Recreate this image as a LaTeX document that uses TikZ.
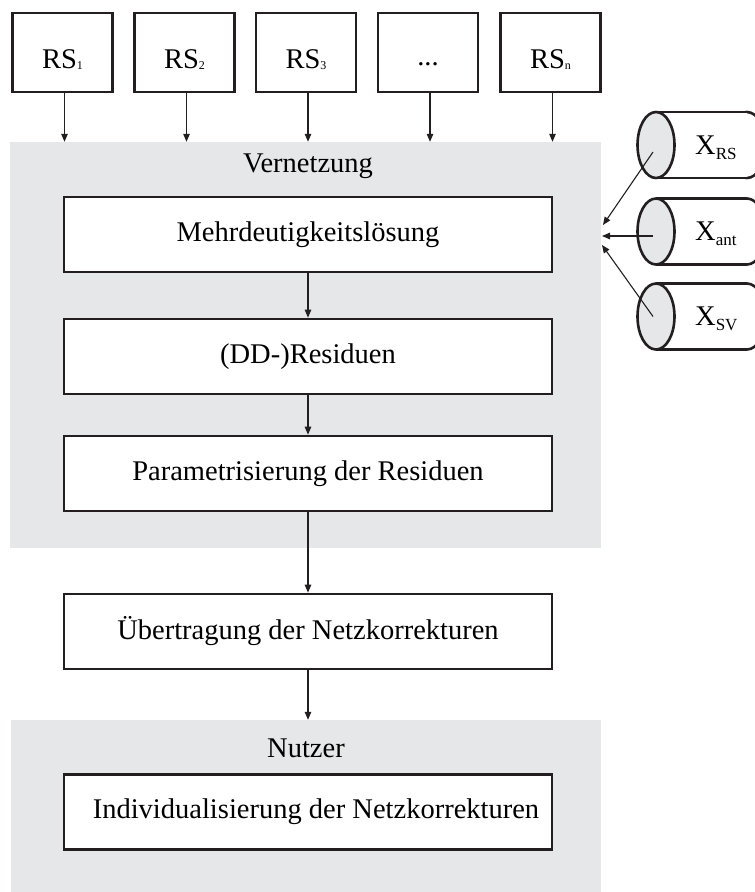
\documentclass[tikz,border=0pt]{standalone}
\usepackage{fontspec}
\setmainfont{Liberation Serif}
\usetikzlibrary{arrows.meta,shapes.geometric}
\definecolor{panel}{HTML}{E6E7E8}
\definecolor{ink}{HTML}{231F20}
% small lowered indices
\newcommand{\rsidx}[1]{\raisebox{-1.5pt}{\fontsize{12pt}{12pt}\selectfont #1}}
\newcommand{\xidx}[1]{\raisebox{-5pt}{\fontsize{17pt}{17pt}\selectfont #1}}
\begin{document}
\begin{tikzpicture}[x=1pt,y=-1pt,
  font=\fontsize{28.5pt}{34pt}\selectfont,
  box/.style={draw=ink, line width=2.6pt, fill=white, minimum width=488pt,
    minimum height=75pt, inner sep=0pt},
  src/.style={draw=ink, line width=2.6pt, fill=white, minimum width=100pt,
    minimum height=79pt, inner sep=0pt, text height=31pt, text depth=0pt},
  area/.style={fill=panel, inner sep=0pt},
  arr/.style={draw=ink, line width=1.1pt, -{Triangle[length=8pt,width=6.5pt]}},
  drumface/.style={ellipse, draw=ink, line width=2.6pt, fill=panel,
    minimum width=37pt, minimum height=66pt, inner sep=0pt},
  drumend/.style={ellipse, draw=ink, line width=2.6pt, fill=white,
    minimum width=37pt, minimum height=66pt, inner sep=0pt},
]
\useasboundingbox (0,0) rectangle (755,892);
\clip (0,0) rectangle (755,892);

% grey panels
\node[area, minimum width=591pt, minimum height=406pt] (vern) at (305.5,345) {};
\node[area, minimum width=590pt, minimum height=172pt] (nutz) at (306,806) {};
\node (vernlbl) at (308,166) {Vernetzung};
\node (nutzlbl) at (306,748) {Nutzer};

% reference stations
\node[src] (rs1) at (62.5,52.5) {RS\rsidx{1}};
\node[src] (rs2) at (184.5,52.5) {RS\rsidx{2}};
\node[src] (rs3) at (306,52.5) {RS\rsidx{3}};
\node[src, text height=26pt] (rsd) at (428,52.5) {...};
\node[src] (rsn) at (550.5,52.5) {RS\rsidx{n}};

\foreach \s in {rs1,rs2,rs3,rsd,rsn}
  \draw[arr] ([xshift=2pt]\s.south) -- ([xshift=2pt]\s.south |- vern.north);

% processing chain
\node[box] (mehr) at (308,234.5) {Mehrdeutigkeitslösung};
\node[box] (dd) at (308,356.5) {(DD-)Residuen};
\node[box] (par) at (308,473.5) {Parametrisierung der Residuen};
\node[box] (ueb) at (308,631.5) {Übertragung der Netzkorrekturen};
\node[box] (ind) at (308,812) {\hspace*{16pt}Individualisierung der Netzkorrekturen};

\draw[arr] (mehr.south) -- (dd.north);
\draw[arr] (dd.south) -- (par.north);
\draw[arr] (par.south) -- (ueb.north);
\draw[arr] (ueb.south) -- (ueb.south |- nutz.north);

% data stores
\foreach \n/\cy/\lbl in {RS/145/RS, ANT/231.5/ant, SV/316.5/SV}{
  \node[drumend] (end\n) at (747,\cy) {};
  \fill[white] (656,\cy-33) rectangle (747,\cy+33);
  \draw[ink, line width=2.6pt] (656,\cy-33) -- (747,\cy-33)
                                (656,\cy+33) -- (747,\cy+33);
  \node[drumface] (face\n) at (656,\cy) {};
  \node[anchor=base west, inner sep=0pt] (txt\n) at (695,\cy+9) {X\xidx{\lbl}};
}

\coordinate (inRS) at (603,225);
\coordinate (inANT) at (602,236);
\coordinate (inSV) at (602,245);
\draw[arr] ([shift={(-3,7)}]faceRS.center) -- (inRS);
\draw[arr] ([shift={(-3,4.5)}]faceANT.center) -- (inANT);
\draw[arr] ([shift={(-3,0)}]faceSV.center) -- (inSV);
\end{tikzpicture}
\end{document}
